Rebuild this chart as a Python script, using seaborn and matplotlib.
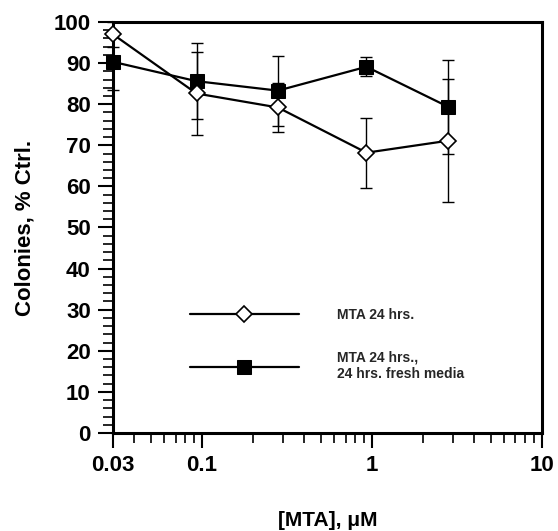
import numpy as np
import pandas as pd
import matplotlib
matplotlib.use("Agg")
import matplotlib.pyplot as plt
import matplotlib.ticker as mticker
import seaborn as sns

# Dados
concentracao = [0.03, 0.093, 0.28, 0.93, 2.8]
mta_24h = [97.0, 82.6, 79.2, 68.2, 71.1]
mta_24h_err = [3.0, 10.0, 6.0, 8.5, 15.0]
mta_fresh = [90.3, 85.6, 83.3, 89.1, 79.4]
mta_fresh_err = [6.8, 9.2, 8.5, 2.3, 11.4]

rotulo_1 = "MTA 24 hrs."
rotulo_2 = "MTA 24 hrs.,\n24 hrs. fresh media"
x_ticks = [0.03, 0.1, 1, 10]
x_tick_labels = ["0.03", "0.1", "1", "10"]

sns.set_theme(style="ticks")
plt.rcParams['font.family'] = ['Liberation Sans', 'DejaVu Sans']
plt.rcParams['font.weight'] = 'bold'

df = pd.DataFrame({
    "conc": concentracao * 2,
    "valor": mta_24h + mta_fresh,
    "serie": [rotulo_1] * 5 + [rotulo_2] * 5,
})

fig = plt.figure(figsize=(5.58, 5.31), dpi=100)
ax = fig.add_axes([0.2025, 0.1846, 0.7685, 0.774])

# barras de erro
ax.errorbar(concentracao, mta_24h, yerr=mta_24h_err, fmt='none', ecolor='black',
            elinewidth=1.0, capsize=4, capthick=1.0, zorder=2, clip_on=False)
ax.errorbar(concentracao, mta_fresh, yerr=mta_fresh_err, fmt='none', ecolor='black',
            elinewidth=1.0, capsize=4, capthick=1.0, zorder=2, clip_on=False)

sns.lineplot(data=df[df["serie"] == rotulo_1], x="conc", y="valor", ax=ax,
             color='black', linewidth=1.6, marker='D', markersize=8.5,
             markerfacecolor='white', markeredgecolor='black', markeredgewidth=1.2,
             label=rotulo_1, zorder=4, clip_on=False)
sns.lineplot(data=df[df["serie"] == rotulo_2], x="conc", y="valor", ax=ax,
             color='black', linewidth=1.6, marker='s', markersize=10.5,
             markerfacecolor='black', markeredgecolor='black',
             label=rotulo_2, zorder=3, clip_on=False)

ax.set_xscale('log')
ax.set_xlim(0.03, 10)
ax.set_ylim(0, 100)
ax.xaxis.set_major_locator(mticker.FixedLocator(x_ticks))
ax.xaxis.set_major_formatter(mticker.FixedFormatter(x_tick_labels))
ax.xaxis.set_minor_locator(mticker.LogLocator(base=10, subs=np.arange(2, 10), numticks=20))
ax.xaxis.set_minor_formatter(mticker.NullFormatter())
ax.yaxis.set_major_locator(mticker.MultipleLocator(10))
ax.yaxis.set_minor_locator(mticker.MultipleLocator(2))

ax.tick_params(axis='both', which='major', direction='out', length=11, width=1.5,
               labelsize=16, pad=5, color='black', labelcolor='black')
ax.tick_params(axis='both', which='minor', direction='out', length=7, width=1.2,
               color='black')
for lbl in ax.get_xticklabels() + ax.get_yticklabels():
    lbl.set_fontweight('bold')

for sp in ax.spines.values():
    sp.set_visible(True)
    sp.set_linewidth(2.2)
    sp.set_color('black')

ax.set_xlabel("[MTA], \u03bcM", fontsize=15, fontweight='bold', labelpad=25, color='black')
ax.set_ylabel("Colonies, % Ctrl.", fontsize=16, fontweight='bold', labelpad=13, color='black')

ax.legend(loc='upper left', bbox_to_anchor=(0.18, 0.305), frameon=False,
          handlelength=7.8, handletextpad=2.8, labelspacing=2.1,
          borderpad=0, borderaxespad=0, prop={'weight': 'bold', 'size': 10})

fig.savefig("out.png", dpi=100, facecolor='white')
